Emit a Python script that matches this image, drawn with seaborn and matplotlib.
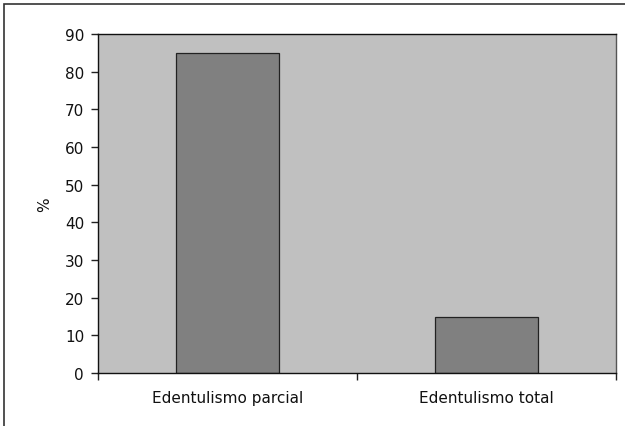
import matplotlib
matplotlib.use("Agg")
import matplotlib.pyplot as plt
from matplotlib.patches import Rectangle
from matplotlib.ticker import FixedLocator
import pandas as pd
import seaborn as sns

categorias = ["Edentulismo parcial", "Edentulismo total"]
porcentajes = [85, 15]
y_ticks = [0, 10, 20, 30, 40, 50, 60, 70, 80, 90]

sns.set_style("white")
plt.rcParams["font.family"] = ["DejaVu Sans"]

df = pd.DataFrame({"tipo": categorias, "pct": porcentajes})

fig = plt.figure(figsize=(6.25, 4.27), dpi=100)
W, H = 625, 427
ax = fig.add_axes([98 / W, 1 - 374 / H, (616 - 98) / W, (374 - 35) / H])

sns.barplot(data=df, x="tipo", y="pct", ax=ax, color="#808080",
            saturation=1, width=0.4, edgecolor="#222222", linewidth=0.9)

ax.set_facecolor("#c0c0c0")
ax.set_xlim(-0.5, 1.5)
ax.set_ylim(0, 90)
ax.set_yticks(y_ticks)
ax.set_xlabel("")
ax.set_ylabel("%", fontsize=11, color="#111111", labelpad=9)

ax.xaxis.set_minor_locator(FixedLocator([-0.5, 0.5, 1.5]))
ax.tick_params(axis="x", which="major", bottom=True, length=0, pad=12,
               labelsize=11, colors="#111111")
ax.tick_params(axis="x", which="minor", bottom=True, length=5, width=1,
               color="#222222", direction="out")
ax.tick_params(axis="y", left=True, length=5, width=1, color="#222222",
               direction="out", labelsize=11, labelcolor="#111111", pad=5)

for side in ["left", "bottom", "top"]:
    ax.spines[side].set_color("#111111")
    ax.spines[side].set_linewidth(1)
ax.spines["right"].set_color("#555555")
ax.spines["right"].set_linewidth(1)

# outer frame around the chart area
fig.patches.append(Rectangle((4 / W, -0.05), 1.1, 1 - 5 / H + 0.05,
                             transform=fig.transFigure, fill=False,
                             edgecolor="#333333", linewidth=1.2))

fig.savefig("out.png", dpi=100)
